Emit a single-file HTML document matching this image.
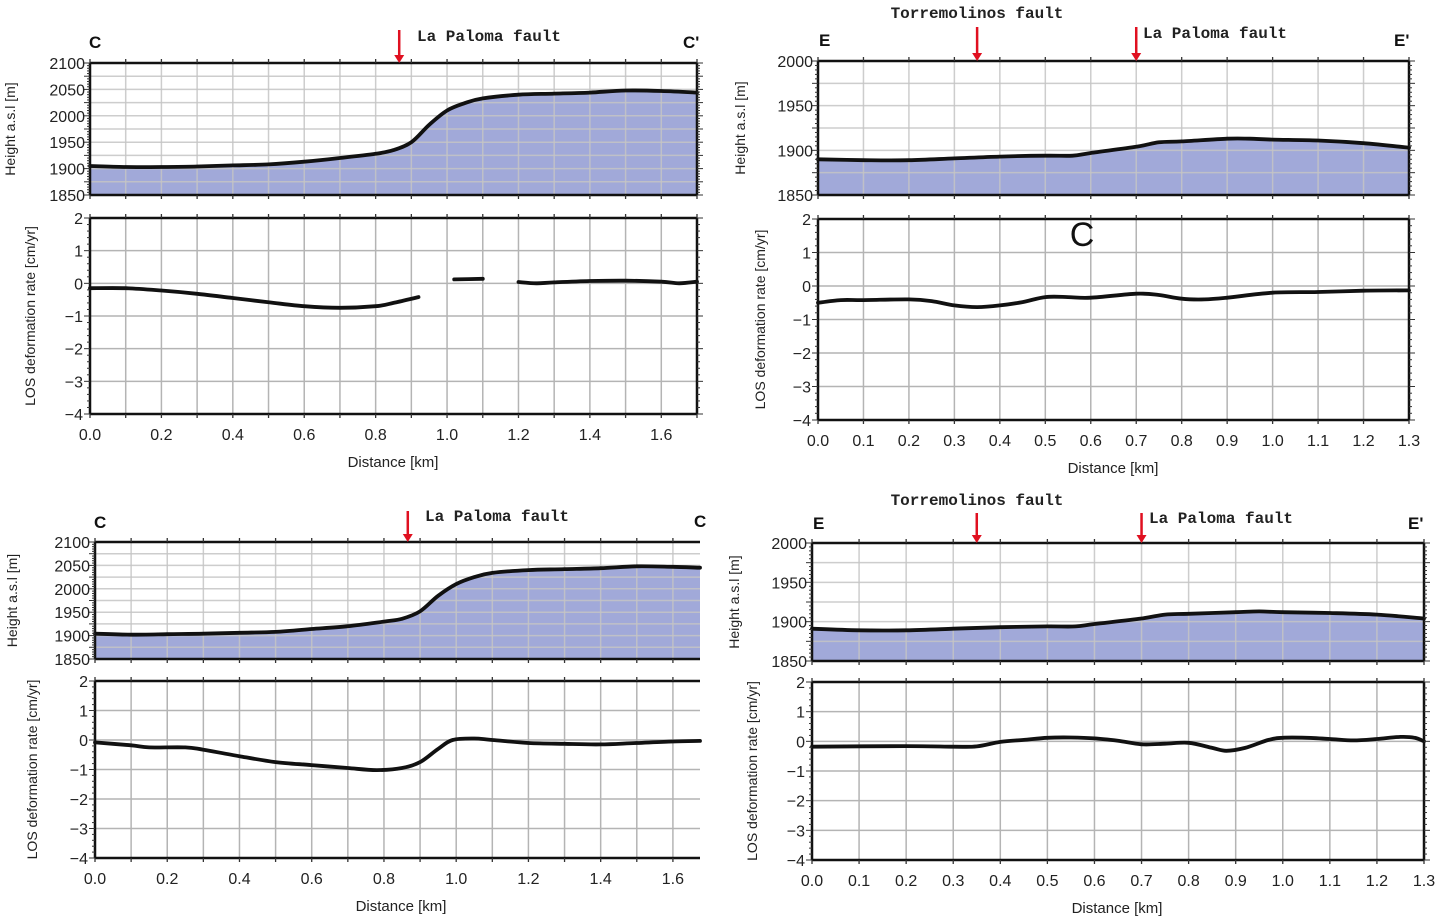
<!DOCTYPE html>
<html><head><meta charset="utf-8"><style>
html,body{margin:0;padding:0;background:#fff}
svg{display:block}
text{font-family:"Liberation Sans",sans-serif}
.mono{font-family:"Liberation Mono",monospace;font-weight:bold}
</style></head><body>
<svg id="fig" width="1441" height="916" viewBox="0 0 1441 916" xmlns="http://www.w3.org/2000/svg"></svg>
<script>
// ---- data ----
const tlHeightX=[0,0.1,0.2,0.3,0.4,0.5,0.6,0.7,0.8,0.85,0.9,0.95,1.0,1.05,1.1,1.2,1.3,1.4,1.5,1.6,1.7];
const tlHeightY=[1905,1903,1903,1904,1906,1908,1913,1920,1928,1935,1950,1983,2010,2024,2033,2040,2042,2044,2048,2047,2044];
const tlLosX=[0,0.1,0.2,0.3,0.4,0.5,0.6,0.7,0.8,0.85,0.92,null,1.02,1.1,null,1.2,1.25,1.3,1.4,1.5,1.6,1.65,1.7];
const tlLosY=[-0.15,-0.15,-0.22,-0.32,-0.45,-0.58,-0.7,-0.75,-0.7,-0.6,-0.42,null,0.12,0.14,null,0.04,0.0,0.03,0.07,0.08,0.05,0.0,0.05];
const trHeightX=[0,0.1,0.2,0.3,0.4,0.5,0.56,0.6,0.7,0.75,0.8,0.9,0.95,1.0,1.1,1.2,1.3];
const trHeightY=[1890,1889,1889,1891,1893,1894,1894,1897,1904,1909,1910,1913,1913,1912,1911,1908,1903];
const trLosX=[0,0.05,0.1,0.2,0.25,0.3,0.35,0.4,0.45,0.5,0.55,0.6,0.7,0.75,0.8,0.85,0.9,1.0,1.1,1.2,1.3];
const trLosY=[-0.5,-0.42,-0.42,-0.4,-0.45,-0.58,-0.63,-0.58,-0.48,-0.33,-0.33,-0.35,-0.23,-0.27,-0.38,-0.4,-0.35,-0.2,-0.18,-0.14,-0.13];
const blHeightX=[0,0.1,0.2,0.3,0.4,0.5,0.6,0.7,0.8,0.85,0.9,0.95,1.0,1.05,1.1,1.2,1.3,1.4,1.5,1.6,1.675];
const blHeightY=[1904,1902,1903,1904,1906,1908,1914,1920,1930,1936,1952,1985,2010,2025,2034,2040,2042,2044,2048,2047,2045];
const blLosX=[0,0.1,0.15,0.25,0.3,0.4,0.5,0.6,0.7,0.78,0.85,0.9,0.95,0.99,1.05,1.1,1.2,1.3,1.4,1.5,1.6,1.675];
const blLosY=[-0.08,-0.18,-0.25,-0.25,-0.33,-0.55,-0.75,-0.85,-0.95,-1.02,-0.95,-0.75,-0.3,0.0,0.05,0.0,-0.1,-0.13,-0.15,-0.1,-0.05,-0.03];
const brHeightX=[0,0.1,0.2,0.3,0.4,0.5,0.56,0.6,0.7,0.75,0.8,0.9,0.95,1.0,1.1,1.2,1.3];
const brHeightY=[1891,1889,1889,1891,1893,1894,1894,1897,1904,1909,1910,1912,1913,1912,1911,1909,1904];
const brLosX=[0,0.2,0.3,0.35,0.4,0.45,0.5,0.55,0.6,0.65,0.7,0.75,0.8,0.85,0.88,0.92,0.97,1.0,1.05,1.1,1.15,1.2,1.25,1.28,1.3];
const brLosY=[-0.18,-0.16,-0.18,-0.17,-0.02,0.05,0.12,0.13,0.1,0.02,-0.1,-0.08,-0.05,-0.22,-0.32,-0.22,0.05,0.12,0.12,0.08,0.03,0.08,0.15,0.12,0.0];
const heightTicksC=[1850,1900,1950,2000,2050,2100];
const heightTicksE=[1850,1900,1950,2000];
const losTicks=[-4,-3,-2,-1,0,1,2];
const distTicksC=[0,0.2,0.4,0.6,0.8,1.0,1.2,1.4,1.6];
const distTicksE=[0,0.1,0.2,0.3,0.4,0.5,0.6,0.7,0.8,0.9,1.0,1.1,1.2,1.3];

const NS="http://www.w3.org/2000/svg";
const svg=document.getElementById('fig');
function mk(tag,attrs,parent,txt){const e=document.createElementNS(NS,tag);for(const k in attrs)e.setAttribute(k,attrs[k]);if(txt!==undefined)e.textContent=txt;(parent||svg).appendChild(e);return e;}
// smooth path through points (Catmull-Rom -> bezier)
function smooth(pts,move){
  let d=(move?'M':'L')+pts[0][0].toFixed(1)+','+pts[0][1].toFixed(1);
  for(let i=0;i<pts.length-1;i++){
    const p0=pts[i-1]||pts[i],p1=pts[i],p2=pts[i+1],p3=pts[i+2]||p2;
    const c1=[p1[0]+(p2[0]-p0[0])/6,p1[1]+(p2[1]-p0[1])/6];
    const c2=[p2[0]-(p3[0]-p1[0])/6,p2[1]-(p3[1]-p1[1])/6];
    d+=` C${c1[0].toFixed(1)},${c1[1].toFixed(1)} ${c2[0].toFixed(1)},${c2[1].toFixed(1)} ${p2[0].toFixed(1)},${p2[1].toFixed(1)}`;
  }
  return d;
}

function panel(p){
  const g=mk('g',{});
  
  
  const sx=v=>p.x0+(v)/(p.xmax)*(p.x1-p.x0);
  const hy=v=>p.hy1+(v-p.hmin)/(p.hmax-p.hmin)*(p.hy0-p.hy1);
  const ly=v=>p.ly1+(v+4)/6*(p.ly0-p.ly1);
  const hpts=p.hx.map((x,i)=>[sx(x),hy(p.hv[i])]);
  // height fill
  let d='M'+sx(p.hx[0])+','+p.hy1+' '+smooth(hpts,false)+' L'+sx(p.hx[p.hx.length-1])+','+p.hy1+' Z';
  const f=mk('path',{d:d,fill:'#a1a9d9',stroke:'none'},g);
  
  
  // grids
  for(let v=0;v<=p.xmax+1e-6;v+=0.1){
    const x=sx(v);
    mk('line',{x1:x,x2:x,y1:p.hy0,y2:p.hy1,stroke:'#c4c4c4','stroke-width':1.5,'stroke-opacity':0.85},g);
    mk('line',{x1:x,x2:x,y1:p.ly0,y2:p.ly1,stroke:'#b4b4b4','stroke-width':1.5},g);
  }
  for(let v=p.hmin;v<=p.hmax;v+=25){
    mk('line',{x1:p.x0,x2:p.x1,y1:hy(v),y2:hy(v),stroke:'#c4c4c4','stroke-width':1.5,'stroke-opacity':0.85},g);
  }
  for(let v=-4;v<=2;v++){
    mk('line',{x1:p.x0,x2:p.x1,y1:ly(v),y2:ly(v),stroke:'#b4b4b4','stroke-width':1.5},g);
  }
  // lines
  const hl=mk('path',{d:smooth(hpts,true),fill:'none',stroke:'#111','stroke-width':3.8,'stroke-linejoin':'round','stroke-linecap':'round'},g);
  
  
  let ld='',seg=[];
  const flush=()=>{if(seg.length)ld+=smooth(seg,true)+' ';seg=[];};
  p.lx.forEach((x,i)=>{if(x===null){flush();return;}seg.push([sx(x),ly(p.lv[i])]);});
  flush();
  const ll=mk('path',{d:ld,fill:'none',stroke:'#111','stroke-width':3.8,'stroke-linejoin':'round','stroke-linecap':'round'},g);
  
  
  // frames
  [[p.hy0,p.hy1],[p.ly0,p.ly1]].forEach(([a,b])=>{
    mk('line',{x1:p.x0,x2:p.x1,y1:a,y2:a,stroke:'#111','stroke-width':2.5},g);
    mk('line',{x1:p.x0,x2:p.x1,y1:b,y2:b,stroke:'#111','stroke-width':2.5},g);
    mk('line',{x1:p.x0,x2:p.x0,y1:a,y2:b,stroke:'#111','stroke-width':2.5},g);
    if(p.right)mk('line',{x1:p.x1,x2:p.x1,y1:a,y2:b,stroke:'#111','stroke-width':2.5},g);
    for(let v=0;v<=p.xmax+1e-6;v+=0.1){const x=sx(v);
      mk('line',{x1:x,x2:x,y1:a-4,y2:a,stroke:'#333','stroke-width':1.3},g);
      mk('line',{x1:x,x2:x,y1:b,y2:b+4,stroke:'#333','stroke-width':1.3},g);}
  });
  for(let v=p.hmin;v<=p.hmax;v+=5){const y=hy(v);const L=(v%25===0)?6:3;
    mk('line',{x1:p.x0-L,x2:p.x0,y1:y,y2:y,stroke:'#333','stroke-width':1},g);
    if(p.right)mk('line',{x1:p.x1,x2:p.x1+L,y1:y,y2:y,stroke:'#333','stroke-width':1},g);}
  for(let v=-4;v<=2.001;v+=0.2){const y=ly(v);const L=(Math.abs(v-Math.round(v))<0.01)?6:3;
    mk('line',{x1:p.x0-L,x2:p.x0,y1:y,y2:y,stroke:'#333','stroke-width':1},g);
    if(p.right)mk('line',{x1:p.x1,x2:p.x1+L,y1:y,y2:y,stroke:'#333','stroke-width':1},g);}
  // tick labels
  p.hticks.forEach(v=>{const t=mk('text',{x:p.x0-5,y:hy(v)+6,'text-anchor':'end','font-size':16,fill:'#222'},g,String(v));
    });
  losTicks.forEach(v=>{const t=mk('text',{x:p.x0-7,y:ly(v)+6,'text-anchor':'end','font-size':16,fill:'#222'},g,v<0?'\u2212'+(-v):String(v));
    });
  p.xticks.forEach(v=>{const t=mk('text',{x:sx(v),y:p.ly1+26,'text-anchor':'middle','font-size':16,fill:'#222'},g,v.toFixed(1));
    });
  const xt=mk('text',{x:p.xtitleX,y:p.ly1+53,'text-anchor':'middle','font-size':15,fill:'#222'},g,'Distance [km]');
  
  const h1=mk('text',{x:0,y:0,'text-anchor':'middle','font-size':14,fill:'#222',transform:`translate(${p.htx},${(p.hy0+p.hy1)/2}) rotate(-90)`},g,'Height a.s.l [m]');
  
  const h2=mk('text',{x:0,y:0,'text-anchor':'middle','font-size':14,fill:'#222',transform:`translate(${p.ltx},${(p.ly0+p.ly1)/2}) rotate(-90)`},g,'LOS deformation rate [cm/yr]');
  
  // labels
  p.ends.forEach(e=>{const t=mk('text',{x:e[1],y:e[2],'font-size':17,'font-weight':'bold',fill:'#111','text-anchor':e[3]||'start'},g,e[0]);
    });
  p.faults.forEach(fl=>{const x=sx(fl.km);
    const a=mk('line',{x1:x,x2:x,y1:fl.ay,y2:p.hy0-6,stroke:'#e01020','stroke-width':2.5},g);
    
    mk('path',{d:`M${x-5},${p.hy0-8} L${x+5},${p.hy0-8} L${x},${p.hy0} Z`,fill:'#e01020'},g);
    const t=mk('text',{x:fl.tx,y:fl.ty,'font-size':16,fill:'#222','text-anchor':fl.anchor||'start',class:'mono'},g,fl.label);
    });
}

panel({name:'profile-c-top',x0:90,x1:697,xmax:1.7,hy0:63,hy1:195,hmin:1850,hmax:2100,ly0:218,ly1:414,right:true,
  hx:tlHeightX,hv:tlHeightY,lx:tlLosX,lv:tlLosY,hticks:heightTicksC,xticks:distTicksC,xtitleX:393,htx:15,ltx:35,
  ends:[['C',89,48],['C\'',683,48]],
  faults:[{km:0.866,ay:30,tx:417,ty:41,label:'La Paloma fault'}]});
panel({name:'profile-e-top',x0:818,x1:1409,xmax:1.3,hy0:61,hy1:195,hmin:1850,hmax:2000,ly0:219,ly1:420,right:true,
  hx:trHeightX,hv:trHeightY,lx:trLosX,lv:trLosY,hticks:heightTicksE,xticks:distTicksE,xtitleX:1113,htx:745,ltx:765,
  ends:[['E',819,46],['E\'',1394,46]],
  faults:[{km:0.35,ay:27,tx:977,ty:18,label:'Torremolinos fault',anchor:'middle'},{km:0.7,ay:27,tx:1143,ty:38,label:'La Paloma fault'}]});
panel({name:'profile-c-bottom',x0:95,x1:700,xmax:1.675,hy0:542,hy1:659,hmin:1850,hmax:2100,ly0:681,ly1:858,right:false,
  hx:blHeightX,hv:blHeightY,lx:blLosX,lv:blLosY,hticks:heightTicksC,xticks:distTicksC,xtitleX:401,htx:17,ltx:37,
  ends:[['C',94,528],['C',694,527]],
  faults:[{km:0.866,ay:511,tx:425,ty:521,label:'La Paloma fault'}]});
panel({name:'profile-e-bottom',x0:812,x1:1424,xmax:1.3,hy0:543,hy1:661,hmin:1850,hmax:2000,ly0:682,ly1:860,right:true,
  hx:brHeightX,hv:brHeightY,lx:brLosX,lv:brLosY,hticks:heightTicksE,xticks:distTicksE,xtitleX:1117,htx:739,ltx:757,
  ends:[['E',813,529],['E\'',1408,529]],
  faults:[{km:0.35,ay:513,tx:977,ty:505,label:'Torremolinos fault',anchor:'middle'},{km:0.7,ay:513,tx:1149,ty:523,label:'La Paloma fault'}]});
const bigC=mk('text',{x:1082,y:246,'text-anchor':'middle','font-size':34,fill:'#111'},svg,'C');


</script>
</body></html>
